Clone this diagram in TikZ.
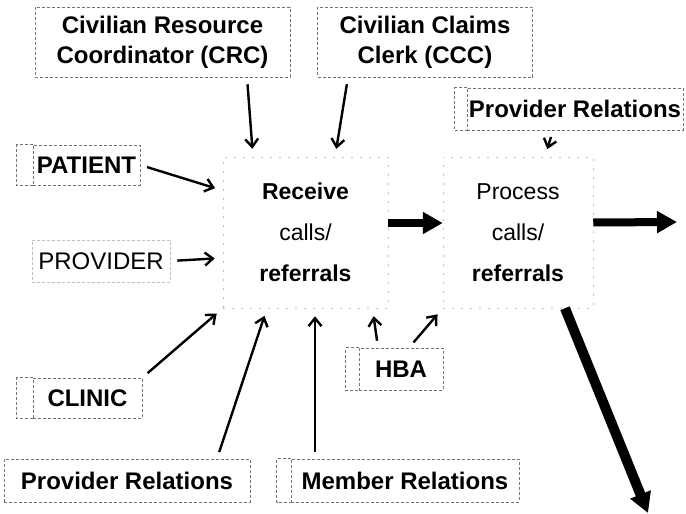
\documentclass[tikz,border=0pt]{standalone}
\usepackage{fontspec}
\setmainfont{Liberation Sans}
\usetikzlibrary{arrows.meta}

\begin{document}
\begin{tikzpicture}[x=1pt, y=-1pt,
        frame/.style={draw=black!55, line width=.6pt, dash pattern=on 3pt off 2pt},
        box/.style={frame, inner sep=0pt, align=center, font=\fontsize{24}{30}\selectfont\bfseries},
        pane/.style={draw=black!25, line width=.5pt, dash pattern=on 2pt off 7pt, inner sep=0pt,
            minimum width=#1, minimum height=151pt, align=center, font=\fontsize{23}{41}\selectfont},
        feed/.style={-{Straight Barb[length=8pt,width=13pt]}, line width=2.4pt, shorten <=7pt, shorten >=8pt},
        flow/.style={-{Triangle[length=20pt,width=21pt]}, line width=8pt}]
    \useasboundingbox (0, 0) rectangle (686, 514);

    % sources
    \node (crc) at (162.5, 42) [box, minimum width=255pt, minimum height=70pt] {Civilian Resource\\Coordinator (CRC)};
    \node (ccc) at (425, 42) [box, minimum width=215pt, minimum height=70pt] {Civilian Claims\\Clerk (CCC)};
    \node (provtop) at (575, 109) [box, minimum width=216pt, minimum height=42pt] {Provider Relations};
    \node (patient) at (86.5, 165) [box, minimum width=107pt, minimum height=40pt] {PATIENT};
    \node (provider) at (101, 261) [box, draw=black!25, minimum width=138pt, minimum height=42pt, font=\fontsize{24}{30}\selectfont] {PROVIDER};
    \node (hba) at (401, 369) [box, minimum width=84pt, minimum height=42pt] {HBA};
    \node (clinic) at (87.5, 398) [box, minimum width=109pt, minimum height=40pt] {CLINIC};
    \node (provbot) at (127, 480.5) [box, minimum width=246pt, minimum height=43pt] {Provider Relations};
    \node (member) at (405, 480.5) [box, minimum width=228pt, minimum height=43pt] {Member Relations};

    % the two steps
    \node (receive) at (305.5, 232.5) [pane=165pt] {\textbf{Receive}\\calls/\\\textbf{referrals}};
    \node (process) at (518, 232.5) [pane=150pt] {Process\\calls/\\\textbf{referrals}};

    % pasted-on tabs
    \foreach \n/\w in {patient/16, clinic/16, hba/13, member/14, provtop/12}
        \draw[frame] (\n.north west) -- ++(-\w, 0) |- (\n.south west);

    \draw[feed] ([xshift=84.5pt]crc.south) -- ([xshift=-52.5pt]receive.north);
    \draw[feed] ([xshift=-77pt]ccc.south) -- ([xshift=29.5pt]receive.north);
    \draw[feed] (patient.east) -- ([yshift=42pt]receive.west);
    \draw[feed] (provider.east) -- ([yshift=-25.5pt]receive.west);
    \draw[feed] (clinic.north east) -- (receive.south west);
    \draw[feed] ([xshift=90pt]provbot.north) -- ([xshift=-38.5pt]receive.south);
    \draw[feed] ([xshift=-90pt]member.north) -- ([xshift=9.5pt]receive.south);
    \draw[feed] ([xshift=-23pt]hba.north) -- ([xshift=67pt]receive.south);
    \draw[feed] ([xshift=8pt]hba.north) -- (process.south west);
    \draw[feed] ([xshift=-22pt]provtop.south) -- ([xshift=27pt]process.north);

    % outputs
    \coordinate (exit) at (677, 222);
    \coordinate (sink) at (648, 513);
    \draw[flow] ([yshift=9.5pt]receive.east) -- ([yshift=9.5pt]process.west);
    \draw[flow] ([yshift=10pt]process.east) -- (exit);
    \draw[flow, line width=10pt] ([xshift=47pt]process.south) -- (sink);
\end{tikzpicture}
\end{document}
